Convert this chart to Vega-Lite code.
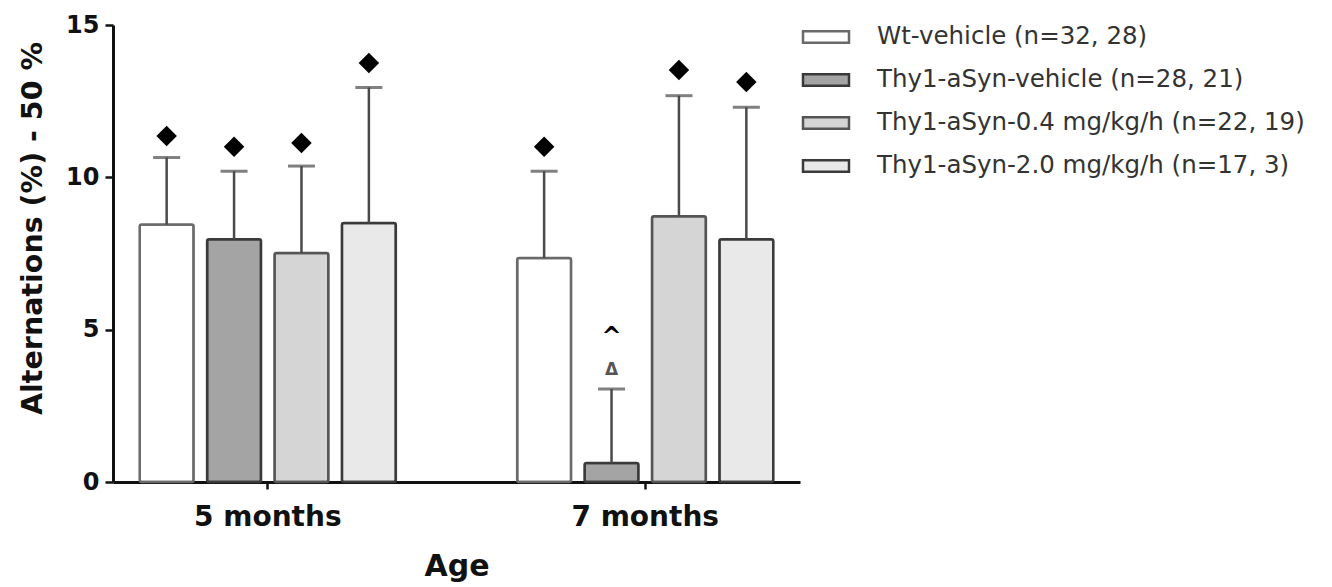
{
  "$schema": "https://vega.github.io/schema/vega-lite/v6.json",
  "width": 687,
  "height": 457,
  "autosize": {"type": "none"},
  "padding": {"left": 113, "top": 25, "right": 532, "bottom": 105},
  "background": "white",
  "config": {"view": {"stroke": null}, "font": "DejaVu Sans"},
  "datasets": {
    "bars": [
      {"age": "5 months", "group": "Wt-vehicle (n=32, 28)", "value": 8.45, "errTop": 10.65, "sig": 11.36},
      {"age": "5 months", "group": "Thy1-aSyn-vehicle (n=28, 21)", "value": 7.97, "errTop": 10.2, "sig": 11.0},
      {"age": "5 months", "group": "Thy1-aSyn-0.4 mg/kg/h (n=22, 19)", "value": 7.52, "errTop": 10.37, "sig": 11.13},
      {"age": "5 months", "group": "Thy1-aSyn-2.0 mg/kg/h (n=17, 3)", "value": 8.5, "errTop": 12.95, "sig": 13.75},
      {"age": "7 months", "group": "Wt-vehicle (n=32, 28)", "value": 7.35, "errTop": 10.2, "sig": 11.0},
      {"age": "7 months", "group": "Thy1-aSyn-vehicle (n=28, 21)", "value": 0.62, "errTop": 3.05, "sig": null},
      {"age": "7 months", "group": "Thy1-aSyn-0.4 mg/kg/h (n=22, 19)", "value": 8.72, "errTop": 12.68, "sig": 13.52},
      {"age": "7 months", "group": "Thy1-aSyn-2.0 mg/kg/h (n=17, 3)", "value": 7.97, "errTop": 12.3, "sig": 13.13}
    ],
    "annot": [
      {"age": "7 months", "group": "Thy1-aSyn-vehicle (n=28, 21)", "y": 3.68, "label": "Δ", "kind": "delta"},
      {"age": "7 months", "group": "Thy1-aSyn-vehicle (n=28, 21)", "y": 4.75, "label": "^", "kind": "caret"}
    ]
  },
  "data": {"name": "bars"},
  "encoding": {
    "x": {
      "field": "age", "type": "nominal",
      "scale": {"domain": ["5 months", "7 months"], "paddingInner": 0.3, "paddingOuter": 0.06},
      "axis": {
        "title": "Age", "labelAngle": 0,
        "labelFont": "DejaVu Sans", "labelFontWeight": "bold", "labelFontSize": 28, "labelColor": "#111",
        "labelPadding": 14,
        "titleFont": "DejaVu Sans", "titleFontWeight": "bold", "titleFontSize": 30, "titleColor": "#111",
        "titlePadding": 20,
        "domainColor": "#111", "domainWidth": 3, "tickColor": "#111", "tickWidth": 2.5, "tickSize": 7
      }
    },
    "xOffset": {
      "field": "group", "type": "nominal",
      "scale": {
        "domain": ["Wt-vehicle (n=32, 28)", "Thy1-aSyn-vehicle (n=28, 21)", "Thy1-aSyn-0.4 mg/kg/h (n=22, 19)", "Thy1-aSyn-2.0 mg/kg/h (n=17, 3)"],
        "paddingInner": 0.2, "paddingOuter": 0.06
      }
    }
  },
  "layer": [
    {
      "mark": {"type": "bar", "strokeWidth": 2.5, "cornerRadius": 2},
      "encoding": {
        "y": {
          "field": "value", "type": "quantitative",
          "scale": {"domain": [0, 15], "nice": false},
          "axis": {
            "title": "Alternations (%) - 50 %", "values": [0, 5, 10, 15], "grid": false,
            "labelFont": "DejaVu Sans", "labelFontWeight": "bold", "labelFontSize": 24, "labelColor": "#111",
            "labelPadding": 6,
            "titleFont": "DejaVu Sans", "titleFontWeight": "bold", "titleFontSize": 28.5, "titleColor": "#111",
            "titlePadding": 18, "titleY": 203,
            "domainColor": "#111", "domainWidth": 3, "tickColor": "#111", "tickWidth": 2.5, "tickSize": 8
          }
        },
        "fill": {
          "field": "group", "type": "nominal",
          "scale": {
            "domain": ["Wt-vehicle (n=32, 28)", "Thy1-aSyn-vehicle (n=28, 21)", "Thy1-aSyn-0.4 mg/kg/h (n=22, 19)", "Thy1-aSyn-2.0 mg/kg/h (n=17, 3)"],
            "range": ["#ffffff", "#a4a4a4", "#d5d5d5", "#e9e9e9"]
          },
          "legend": {
            "title": null, "orient": "none", "legendX": 700, "legendY": -1,
            "symbolType": "M-2,-0.5H2V0.5H-2Z", "symbolSize": 529,
            "symbolStrokeColor": "#3c3c3c", "symbolStrokeWidth": 2.5,
            "labelFont": "DejaVu Sans", "labelFontSize": 24.5, "labelColor": "#333",
            "labelOffset": 38, "rowPadding": 18, "labelLimit": 500
          }
        },
        "stroke": {
          "field": "group", "type": "nominal",
          "scale": {
            "domain": ["Wt-vehicle (n=32, 28)", "Thy1-aSyn-vehicle (n=28, 21)", "Thy1-aSyn-0.4 mg/kg/h (n=22, 19)", "Thy1-aSyn-2.0 mg/kg/h (n=17, 3)"],
            "range": ["#6a6a6a", "#3a3a3a", "#555555", "#3a3a3a"]
          },
          "legend": null
        }
      }
    },
    {
      "mark": {"type": "rule", "stroke": "#4a4a4a", "strokeWidth": 2.5},
      "encoding": {
        "y": {"field": "value", "type": "quantitative"},
        "y2": {"field": "errTop"}
      }
    },
    {
      "mark": {"type": "tick", "color": "#4a4a4a", "size": 27, "thickness": 3, "orient": "horizontal"},
      "encoding": {
        "y": {"field": "errTop", "type": "quantitative"}
      }
    },
    {
      "mark": {"type": "point", "shape": "diamond", "filled": true, "color": "#000", "size": 420, "opacity": 1},
      "encoding": {
        "y": {"field": "sig", "type": "quantitative"}
      }
    },
    {
      "data": {"name": "annot"},
      "mark": {"type": "text", "font": "DejaVu Sans", "fontWeight": "bold", "baseline": "middle"},
      "encoding": {
        "y": {"field": "y", "type": "quantitative"},
        "text": {"field": "label"},
        "size": {"field": "kind", "type": "nominal", "scale": {"domain": ["delta", "caret"], "range": [17, 24]}, "legend": null},
        "color": {"field": "kind", "type": "nominal", "scale": {"domain": ["delta", "caret"], "range": ["#555555", "#000000"]}, "legend": null}
      }
    }
  ]
}
